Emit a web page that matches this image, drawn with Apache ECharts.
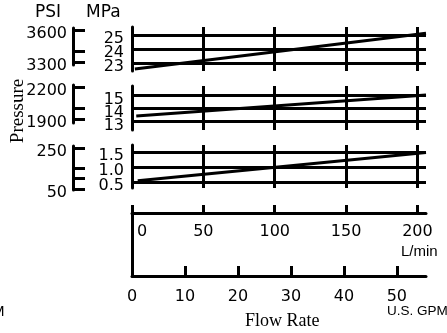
<!DOCTYPE html>
<html>
<head>
<meta charset="utf-8">
<script src="https://cdn.jsdelivr.net/npm/echarts@6/dist/echarts.min.js"></script>
<style>
  html, body { margin: 0; padding: 0; background: #fff; }
  #chart { width: 447px; height: 333px; }
</style>
</head>
<body>
<div id="chart"></div>
<script>
// pressure vs flow chart

// flow axis ticks
var lpmTicks = [0, 50, 100, 150, 200];
var gpmTicks = [10, 20, 30, 40, 50];
var gpmLabels = [0, 10, 20, 30, 40, 50];

// MPa ticks per panel
var mpaHigh = [23, 24, 25];
var mpaMid = [13, 14, 15];
var mpaLow = [0.5, 1.0, 1.5];

// PSI ticks / labels per panel
var psiHighTicks = [3300, 3400, 3600];
var psiHighLabels = [3300, 3600];
var psiMidTicks = [1900, 2000, 2200];
var psiMidLabels = [1900, 2200];
var psiLowTicks = [50, 100, 150, 250];
var psiLowLabels = [50, 250];

// pressure curves (flow L/min -> MPa)
var highFlow = [2, 206];
var highPress = [22.58, 25.13];
var midFlow = [3, 206];
var midPress = [13.44, 15.05];
var lowFlow = [4, 206];
var lowPress = [0.54, 1.49];

var black = '#000';
var sans = 'DejaVu Sans';
var arial = 'Liberation Sans';
var serif = 'Liberation Serif';

function pairs(xs, ys) {
    var out = [];
    for (var i = 0; i < xs.length; i++) {
        out.push([xs[i], ys[i]]);
    }
    return out;
}

function gridLines(yVals) {
    var d = [];
    yVals.forEach(function (v) { d.push({yAxis: v}); });
    lpmTicks.forEach(function (v) { if (v > 0) d.push({xAxis: v}); });
    return {
        silent: true,
        symbol: ['none', 'none'],
        label: {show: false},
        lineStyle: {color: black, type: 'solid', width: 3},
        data: d
    };
}

function sideLabel(values, margin, fmt) {
    return {
        customValues: values, margin: margin, color: black,
        fontFamily: sans, fontSize: 16, lineHeight: 8, verticalAlign: 'top',
        showMinLabel: true, showMaxLabel: true, hideOverlap: false,
        formatter: fmt || function (v) { return String(v); }
    };
}

// outer labels on the main axis, the middle one on a twin axis
// (the labels are too tight, echarts drops one of them otherwise)
function panelY(idx, min, max, labels, fmt) {
    return {
        type: 'value', gridIndex: idx, min: min, max: max,
        axisLine: {show: true, onZero: false, lineStyle: {color: black, width: 3}},
        axisTick: {show: false},
        splitLine: {show: false},
        axisLabel: sideLabel([labels[0], labels[2]], 8, fmt)
    };
}

function panelMidY(idx, min, max, labels, fmt) {
    return {
        type: 'value', gridIndex: idx, min: min, max: max, position: 'left',
        axisLine: {show: false, onZero: false},
        axisTick: {show: false},
        splitLine: {show: false},
        axisLabel: sideLabel([labels[1]], 8, fmt)
    };
}

function psiY(idx, min, max, ticks, labels) {
    return {
        type: 'value', gridIndex: idx, min: min, max: max,
        axisLine: {show: true, onZero: false, lineStyle: {color: black, width: 3}},
        axisTick: {show: true, inside: true, length: 12, customValues: ticks,
                   lineStyle: {color: black, width: 3}},
        splitLine: {show: false},
        axisLabel: sideLabel(labels, 6)
    };
}

function hiddenX(idx, max) {
    return {type: 'value', gridIndex: idx, min: 0, max: max, show: false};
}

var lowFmt = function (v) { return v.toFixed(1); };

var chart = echarts.init(document.getElementById('chart'));

chart.setOption({
    animation: false,
    backgroundColor: '#fff',
    title: [
        {text: 'PSI', left: 35, top: 4, textStyle: {fontSize: 17}},
        {text: 'MPa', left: 86, top: 4, textStyle: {fontSize: 17}},
        {text: 'L/min', left: 401, top: 244, textStyle: {fontFamily: arial, fontSize: 15}},
        {text: 'U.S. GPM', left: 387, top: 304, textStyle: {fontFamily: arial, fontSize: 13.5}},
        {text: 'M', left: -8, top: 304, textStyle: {fontFamily: arial, fontSize: 15}},
        {text: 'Flow Rate', left: 245, top: 312, textStyle: {fontFamily: serif, fontSize: 18}}
    ].map(function (t) {
        t.padding = 0;
        t.textStyle = Object.assign({fontFamily: sans, fontSize: 16, fontWeight: 'normal', color: black},
                                    t.textStyle);
        return t;
    }),
    graphic: [{
        type: 'text', x: 18, y: 111, rotation: Math.PI / 2,
        style: {text: 'Pressure', fontFamily: serif, fontSize: 19, fill: black,
                align: 'center', verticalAlign: 'middle'}
    }],
    grid: [
        {left: 132, top: 27, width: 294, height: 44, outerBoundsMode: 'none'},
        {left: 132, top: 86, width: 294, height: 44, outerBoundsMode: 'none'},
        {left: 132, top: 145, width: 294, height: 43, outerBoundsMode: 'none'},
        {left: 132, top: 213, width: 294, height: 63, outerBoundsMode: 'none'},
        {left: 73, top: 28, width: 10, height: 37, outerBoundsMode: 'none'},
        {left: 73, top: 85, width: 10, height: 38, outerBoundsMode: 'none'},
        {left: 73, top: 146, width: 10, height: 44, outerBoundsMode: 'none'}
    ],
    xAxis: [
        hiddenX(0, 206),
        hiddenX(1, 206),
        hiddenX(2, 206),
        {
            type: 'value', gridIndex: 3, position: 'top', min: 0, max: 206,
            axisLine: {show: true, onZero: false, lineStyle: {color: black, width: 3}},
            axisTick: {show: true, length: 8, customValues: lpmTicks,
                       lineStyle: {color: black, width: 3}},
            splitLine: {show: false},
            axisLabel: {
                inside: true, customValues: lpmTicks, margin: 11, color: black,
                fontFamily: sans, fontSize: 16, alignMinLabel: 'left',
                showMinLabel: true, showMaxLabel: true, hideOverlap: false,
                formatter: function (v) { return v === 0 ? '{z|0}' : String(v); },
                rich: {z: {fontFamily: sans, fontSize: 16, color: black, padding: [0, 0, 0, 5]}}
            }
        },
        {
            type: 'value', gridIndex: 3, position: 'bottom', min: 0, max: 55.5,
            axisLine: {show: true, onZero: false, lineStyle: {color: black, width: 3}},
            axisTick: {show: true, inside: true, length: 10, customValues: gpmTicks,
                       lineStyle: {color: black, width: 3}},
            splitLine: {show: false},
            axisLabel: {customValues: gpmLabels, margin: 13, color: black,
                        fontFamily: sans, fontSize: 16,
                        showMinLabel: true, showMaxLabel: true, hideOverlap: false,
                        formatter: function (v) { return String(v); }}
        },
        hiddenX(4, 1),
        hiddenX(5, 1),
        hiddenX(6, 1)
    ],
    yAxis: [
        panelY(0, 22.43, 25.57, mpaHigh),
        panelY(1, 12.36, 15.75, mpaMid),
        panelY(2, 0.298, 1.746, mpaLow, lowFmt),
        {
            type: 'value', gridIndex: 3, min: 0, max: 1,
            axisLine: {show: true, onZero: false, lineStyle: {color: black, width: 3}},
            axisTick: {show: false}, axisLabel: {show: false}, splitLine: {show: false}
        },
        psiY(4, 3275, 3618.6, psiHighTicks, psiHighLabels),
        psiY(5, 1862.5, 2218.75, psiMidTicks, psiMidLabels),
        psiY(6, 45.1, 259.8, psiLowTicks, psiLowLabels),
        panelMidY(0, 22.43, 25.57, mpaHigh),
        panelMidY(1, 12.36, 15.75, mpaMid),
        panelMidY(2, 0.298, 1.746, mpaLow, lowFmt)
    ],
    series: [
        {
            type: 'line', xAxisIndex: 0, yAxisIndex: 0, showSymbol: false,
            lineStyle: {color: black, width: 3},
            data: pairs(highFlow, highPress),
            markLine: gridLines(mpaHigh)
        },
        {
            type: 'line', xAxisIndex: 1, yAxisIndex: 1, showSymbol: false,
            lineStyle: {color: black, width: 3},
            data: pairs(midFlow, midPress),
            markLine: gridLines(mpaMid)
        },
        {
            type: 'line', xAxisIndex: 2, yAxisIndex: 2, showSymbol: false,
            lineStyle: {color: black, width: 3},
            data: pairs(lowFlow, lowPress),
            markLine: gridLines(mpaLow)
        }
    ]
});
</script>
</body>
</html>
